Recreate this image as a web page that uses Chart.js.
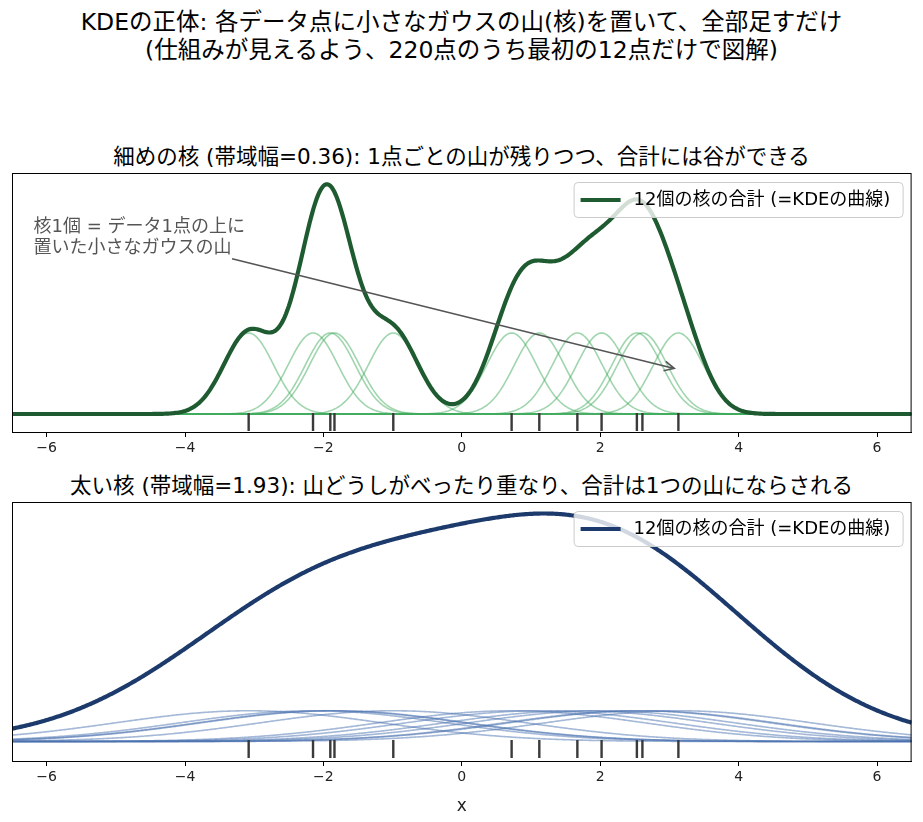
<!DOCTYPE html>
<html>
<head>
<meta charset="utf-8">
<script src="https://cdn.jsdelivr.net/npm/chart.js@4.4.1/dist/chart.umd.min.js"></script>
<style>
  body { margin: 0; background: #fff; }
  #wrap { position: relative; width: 923px; height: 822px; font-family: "DejaVu Sans", "Noto Sans CJK JP", sans-serif; color: #000; }
  .ttl { position: absolute; left: 0; width: 923px; text-align: center; white-space: nowrap; }
  canvas { position: absolute; left: 0; }
</style>
</head>
<body>
<div id="wrap">
  <div class="ttl" style="top:8px; font-size:23.5px; line-height:28px;">KDEの正体: 各データ点に小さなガウスの山(核)を置いて、全部足すだけ<br>(仕組みが見えるよう、220点のうち最初の12点だけで図解)</div>
  <div class="ttl" style="top:144px; font-size:21.5px; line-height:26px;">細めの核 (帯域幅=0.36): 1点ごとの山が残りつつ、合計には谷ができる</div>
  <div class="ttl" style="top:473px; font-size:21.5px; line-height:26px;">太い核 (帯域幅=1.93): 山どうしがべったり重なり、合計は1つの山にならされる</div>
  <canvas id="narrowChart" width="923" height="312" style="top:160px;"></canvas>
  <canvas id="wideChart" width="923" height="331" style="top:490px;"></canvas>
</div>
<script>
"use strict";

// first 12 of the 220 sample points
const points = [-3.08, -2.15, -1.90, -1.84, -0.99, 0.72, 1.12, 1.67, 2.02, 2.53, 2.61, 3.13];
const bandwidths = [0.36, 1.93];
const xTicks = [-6, -4, -2, 0, 2, 4, 6];
const legendLabel = '12個の核の合計 (=KDEの曲線)';
const noteLines = ['核1個 = データ1点の上に', '置いた小さなガウスの山'];

const FONT = '"DejaVu Sans", "Noto Sans CJK JP"';
const X_MIN = -6.5;
const X_MAX = 6.5;
const gridX = [];
for (let i = 0; i <= 650; i++) {
    gridX.push(X_MIN + i * 0.02);
}

const kernelCurve = (xi, h) => gridX.map(x => ({
    x: x,
    y: Math.exp(-0.5 * Math.pow((x - xi) / h, 2)) / (points.length * h * Math.sqrt(2 * Math.PI))
}));

const frame = {
    id: 'frame',
    afterDatasetsDraw(chart) {
        const a = chart.chartArea;
        const ctx = chart.ctx;
        ctx.save();
        ctx.strokeStyle = '#000';
        ctx.lineWidth = 1;
        ctx.strokeRect(a.left + 0.5, a.top + 0.5, a.right - a.left - 1, a.bottom - a.top);
        ctx.restore();
    }
};

const boxLegend = {
    id: 'boxLegend',
    afterDraw(chart, args, opts) {
        const a = chart.chartArea;
        const ctx = chart.ctx;
        const left = a.right - 338, top = a.top + 9, w = 329, h = 35;
        ctx.save();
        ctx.fillStyle = 'rgba(255,255,255,0.8)';
        ctx.strokeStyle = '#cccccc';
        ctx.lineWidth = 1;
        ctx.beginPath();
        ctx.roundRect(left + 0.5, top + 0.5, w, h, 4);
        ctx.fill();
        ctx.stroke();
        ctx.strokeStyle = opts.color;
        ctx.lineWidth = 4;
        ctx.beginPath();
        ctx.moveTo(left + 7, top + 18);
        ctx.lineTo(left + 47, top + 18);
        ctx.stroke();
        ctx.fillStyle = '#000';
        ctx.font = '18px ' + FONT;
        ctx.textBaseline = 'middle';
        ctx.fillText(legendLabel, left + 60, top + 18);
        ctx.restore();
    }
};

const note = {
    id: 'note',
    afterDatasetsDraw(chart, args, opts) {
        if (!opts.show) return;
        const sx = chart.scales.x, sy = chart.scales.y;
        const ctx = chart.ctx;
        ctx.save();
        ctx.fillStyle = '#555';
        ctx.font = '18px ' + FONT;
        ctx.textBaseline = 'top';
        const tx = sx.getPixelForValue(-6.19), ty = sy.getPixelForValue(0.223);
        noteLines.forEach((t, i) => ctx.fillText(t, tx, ty + i * 21));
        const x0 = sx.getPixelForValue(-3.32), y0 = sy.getPixelForValue(0.177);
        const x1 = sx.getPixelForValue(3.07), y1 = sy.getPixelForValue(0.052);
        ctx.strokeStyle = '#555';
        ctx.lineWidth = 1.6;
        ctx.beginPath();
        ctx.moveTo(x0, y0);
        ctx.lineTo(x1, y1);
        const ang = Math.atan2(y1 - y0, x1 - x0);
        ctx.moveTo(x1 - 11 * Math.cos(ang - 0.45), y1 - 11 * Math.sin(ang - 0.45));
        ctx.lineTo(x1, y1);
        ctx.lineTo(x1 - 11 * Math.cos(ang + 0.45), y1 - 11 * Math.sin(ang + 0.45));
        ctx.stroke();
        ctx.restore();
    }
};

const makeChart = (id, h, style) => {
    const kernels = points.map(p => kernelCurve(p, h));
    const total = gridX.map((x, i) => ({x: x, y: kernels.reduce((s, k) => s + k[i].y, 0)}));
    const datasets = kernels.map(k => ({
        data: k,
        borderColor: style.kernel,
        borderWidth: 1.6,
        pointRadius: 0,
        order: 3
    }));
    datasets.push({
        data: total,
        borderColor: style.total,
        borderWidth: 4.2,
        pointRadius: 0,
        order: 2
    });
    datasets.push({
        type: 'scatter',
        data: points.map(p => ({x: p, y: style.rugY})),
        pointStyle: 'line',
        rotation: 90,
        radius: 9,
        borderColor: '#3a3a3a',
        borderWidth: 2.4,
        order: 1
    });

    return new Chart(document.getElementById(id), {
        type: 'line',
        data: {datasets: datasets},
        options: {
            responsive: false,
            animation: false,
            events: [],
            layout: {padding: {left: 12, right: 10, top: style.padTop, bottom: 0}},
            plugins: {
                legend: {display: false},
                tooltip: {enabled: false},
                boxLegend: {color: style.total},
                note: {show: style.note}
            },
            scales: {
                x: {
                    type: 'linear',
                    min: X_MIN,
                    max: X_MAX,
                    afterBuildTicks: (scale) => {
                        scale.ticks = xTicks.map(v => ({value: v}));
                    },
                    afterFit: (scale) => {
                        scale.height = style.xHeight;
                    },
                    grid: {drawOnChartArea: false, drawTicks: true, tickLength: 5, color: '#000'},
                    border: {display: true, color: '#000'},
                    ticks: {
                        padding: 3,
                        color: '#222',
                        font: {family: FONT, size: 14},
                        maxRotation: 0,
                        callback: (v) => String(v).replace('-', '\u2212')
                    },
                    title: {
                        display: style.xTitle,
                        text: 'x',
                        color: '#222',
                        padding: {top: 2},
                        font: {family: FONT, size: 17}
                    }
                },
                y: {
                    display: false,
                    min: style.yMin,
                    max: style.yMax
                }
            }
        },
        plugins: [frame, note, boxLegend]
    });
};

makeChart('narrowChart', bandwidths[0], {
    kernel: 'rgba(65,171,93,0.5)',
    total: '#1f5b31',
    rugY: -0.0091,
    yMin: -0.0205,
    yMax: 0.2748,
    padTop: 13,
    xHeight: 40,
    xTitle: false,
    note: true
});

makeChart('wideChart', bandwidths[1], {
    kernel: 'rgba(74,114,176,0.5)',
    total: '#1c3a6b',
    rugY: -0.0042,
    yMin: -0.0109,
    yMax: 0.1341,
    padTop: 12,
    xHeight: 60,
    xTitle: true,
    note: false
});
</script>
</body>
</html>
